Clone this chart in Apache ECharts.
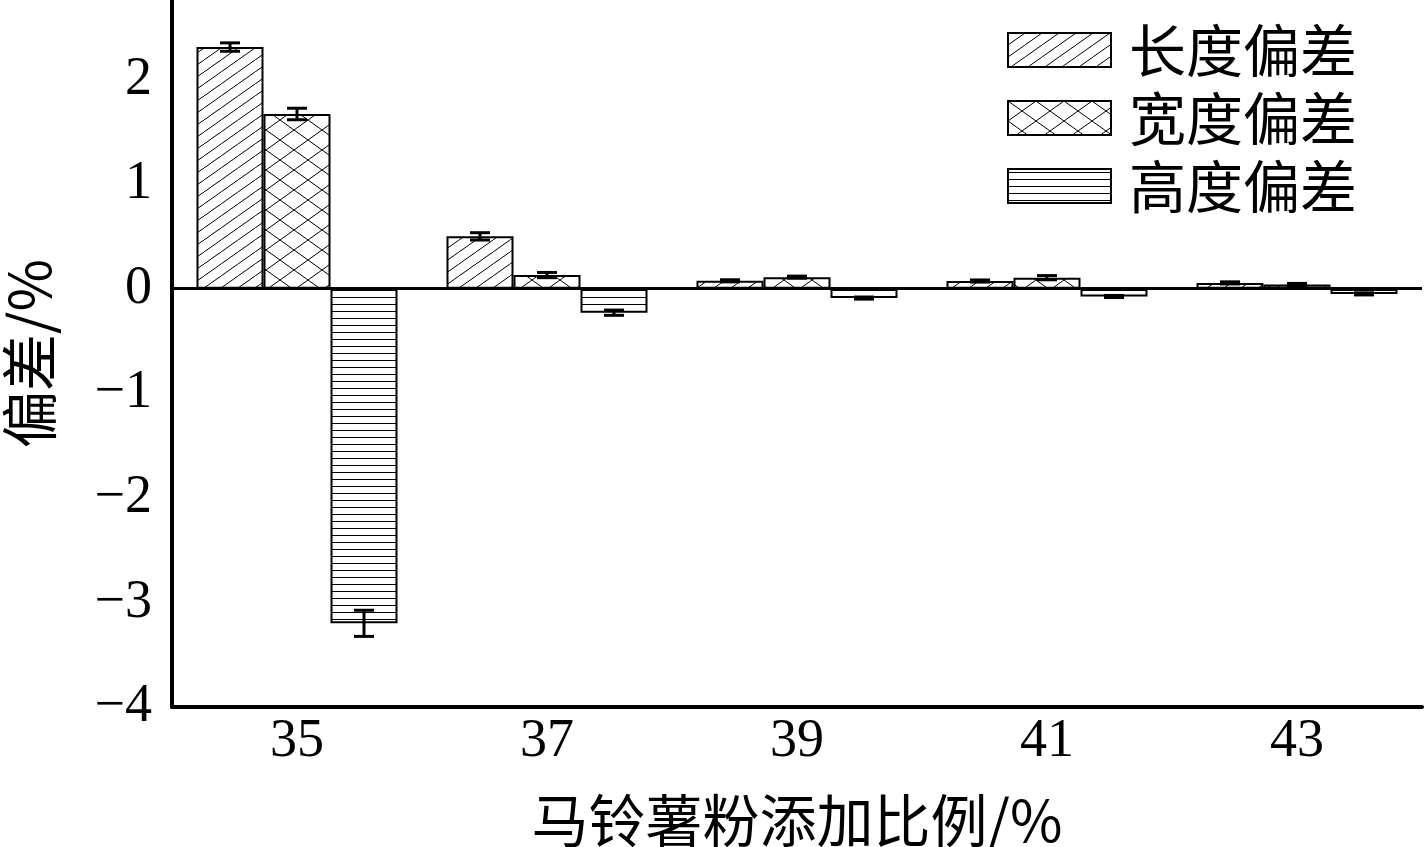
<!DOCTYPE html>
<html>
<head>
<meta charset="utf-8">
<script src="https://cdn.jsdelivr.net/npm/echarts@6/dist/echarts.min.js"></script>
<style>
html, body { margin: 0; padding: 0; background: #fff; }
#chart { width: 1425px; height: 847px; }
</style>
</head>
<body>
<div id="chart"></div>
<script>
// 马铃薯粉添加比例
var categories = ['35', '37', '39', '41', '43'];
var seriesNames = ['长度偏差', '宽度偏差', '高度偏差'];
var lengthDev = [2.31, 0.50, 0.075, 0.073, 0.055];
var lengthErr = [0.04, 0.035, 0.01, 0.01, 0.01];
var widthDev = [1.67, 0.13, 0.11, 0.105, 0.04];
var widthErr = [0.055, 0.025, 0.01, 0.02, 0.01];
var heightDev = [-3.20, -0.23, -0.09, -0.075, -0.05];
var heightErr = [0.125, 0.025, 0.01, 0.01, 0.01];
var yTicks = [-4, -3, -2, -1, 0, 1, 2];

var cnFont = '"Noto Sans CJK SC", sans-serif';
var numFont = '"Liberation Serif", serif';
var barW = 67;

function makePattern(kind) {
  var c = document.createElement('canvas');
  var ctx;
  if (kind === 'diag') {
    c.width = 17; c.height = 12;
    ctx = c.getContext('2d');
    ctx.fillStyle = '#fff'; ctx.fillRect(0, 0, 17, 12);
    ctx.strokeStyle = '#000'; ctx.lineWidth = 1;
    ctx.beginPath();
    ctx.moveTo(0, 12); ctx.lineTo(17, 0);
    ctx.moveTo(-17, 12); ctx.lineTo(0, 0);
    ctx.moveTo(17, 12); ctx.lineTo(34, 0);
    ctx.stroke();
  } else if (kind === 'cross') {
    c.width = 28; c.height = 20;
    ctx = c.getContext('2d');
    ctx.fillStyle = '#fff'; ctx.fillRect(0, 0, 28, 20);
    ctx.strokeStyle = '#000'; ctx.lineWidth = 1;
    ctx.beginPath();
    ctx.moveTo(0, 0); ctx.lineTo(28, 20);
    ctx.moveTo(0, 20); ctx.lineTo(28, 0);
    ctx.stroke();
  } else {
    c.width = 8; c.height = 7;
    ctx = c.getContext('2d');
    ctx.fillStyle = '#fff'; ctx.fillRect(0, 0, 8, 7);
    ctx.fillStyle = '#000'; ctx.fillRect(0, 3, 8, 1);
  }
  return { image: c, repeat: 'repeat' };
}

var patterns = [makePattern('diag'), makePattern('cross'), makePattern('horiz')];
var values = [lengthDev, widthDev, heightDev];
var errors = [lengthErr, widthErr, heightErr];

function errSeries(k) {
  var data = values[k].map(function (v, i) { return [i, v, errors[k][i]]; });
  return {
    type: 'custom',
    name: 'err' + k,
    z: 5,
    silent: true,
    data: data,
    renderItem: function (params, api) {
      var i = api.value(0), v = api.value(1), e = api.value(2);
      var off = (k - 1) * barW;
      var top = api.coord([i, v + e]);
      var bot = api.coord([i, v - e]);
      var x = top[0] + off;
      var cap = 10;
      var style = { stroke: '#000', lineWidth: 3 };
      return {
        type: 'group',
        children: [
          { type: 'line', shape: { x1: x, y1: top[1], x2: x, y2: bot[1] }, style: style },
          { type: 'line', shape: { x1: x - cap, y1: top[1], x2: x + cap, y2: top[1] }, style: style },
          { type: 'line', shape: { x1: x - cap, y1: bot[1], x2: x + cap, y2: bot[1] }, style: style }
        ]
      };
    }
  };
}

var barSeries = seriesNames.map(function (name, k) {
  var s = {
    name: name,
    type: 'bar',
    barWidth: barW,
    barGap: '0%',
    data: values[k],
    itemStyle: { color: patterns[k], borderColor: '#000', borderWidth: 2 },
    emphasis: { disabled: true }
  };
  if (k === 0) {
    s.markLine = {
      silent: true,
      symbol: 'none',
      label: { show: false },
      lineStyle: { color: '#000', width: 3, type: 'solid' },
      data: [{ yAxis: 0 }]
    };
  }
  return s;
});

var chart = echarts.init(document.getElementById('chart'));
chart.setOption({
  animation: false,
  backgroundColor: '#fff',
  grid: { left: 172, right: 3, top: 0, bottom: 140, containLabel: false, outerBoundsMode: 'none' },
  legend: {
    data: seriesNames,
    orient: 'vertical',
    left: 1007,
    top: 16,
    padding: 0,
    itemGap: 0,
    itemWidth: 103,
    itemHeight: 34,
    icon: 'rect',
    textStyle: { fontFamily: cnFont, fontSize: 57, color: '#000', lineHeight: 68, padding: [0, 0, 0, 13] }
  },
  xAxis: {
    type: 'category',
    data: categories,
    name: '马铃薯粉添加比例/%',
    nameLocation: 'middle',
    nameGap: 85,
    nameTextStyle: { fontFamily: cnFont, fontSize: 57, color: '#000' },
    axisLine: { onZero: false, lineStyle: { color: '#000', width: 4 } },
    axisTick: { inside: true, alignWithLabel: true, length: 12, lineStyle: { color: '#000', width: 3 } },
    axisLabel: { margin: 8, fontFamily: numFont, fontSize: 54, color: '#000' },
    splitLine: { show: false }
  },
  yAxis: {
    type: 'value',
    min: yTicks[0],
    max: 2.76,
    interval: 1,
    name: '偏差/%',
    nameLocation: 'middle',
    nameGap: 114,
    nameTextStyle: { fontFamily: cnFont, fontSize: 57, color: '#000' },
    axisLine: { show: true, lineStyle: { color: '#000', width: 4 } },
    axisTick: { inside: true, length: 17, lineStyle: { color: '#000', width: 3 } },
    axisLabel: {
      margin: 20,
      showMaxLabel: false,
      fontFamily: numFont,
      fontSize: 54,
      color: '#000',
      formatter: function (v) {
        if (yTicks.indexOf(v) < 0) return '';
        return v < 0 ? '\u2212' + (-v) : String(v);
      }
    },
    splitLine: { show: false }
  },
  series: barSeries.concat([errSeries(0), errSeries(1), errSeries(2)])
});
</script>
</body>
</html>
